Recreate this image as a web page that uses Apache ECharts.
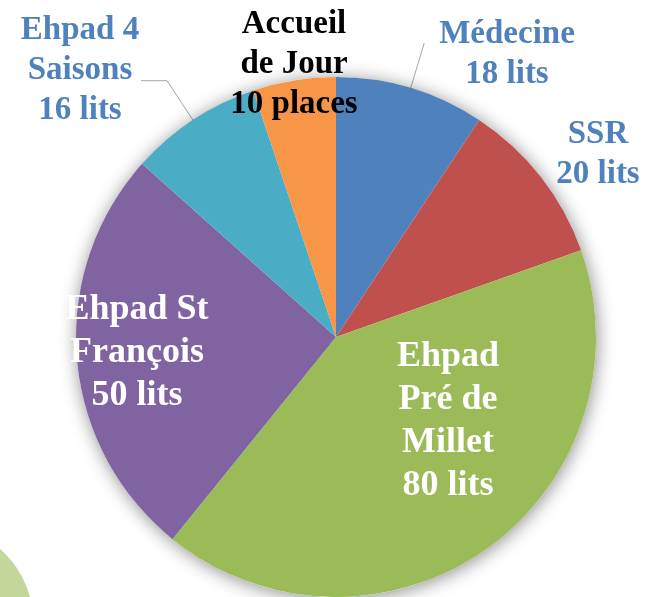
<!DOCTYPE html>
<html>
<head>
<meta charset="utf-8">
<script src="https://cdn.jsdelivr.net/npm/echarts@6/dist/echarts.min.js"></script>
<style>
  html, body { margin: 0; padding: 0; background: #fff; }
  #chart { width: 658px; height: 597px; }
</style>
</head>
<body>
<div id="chart"></div>
<script>
// capacité par structure, dans l'ordre horaire depuis midi
var names = ['Médecine', 'SSR', 'Ehpad\nPré de\nMillet', 'Ehpad St\nFrançois', 'Ehpad 4\nSaisons', 'Accueil\nde Jour'];
var values = [18, 20, 80, 50, 16, 10];
var units = ['lits', 'lits', 'lits', 'lits', 'lits', 'places'];

var colors = ['#4f81bd', '#c0504d', '#9bbb59', '#8064a2', '#4bacc6', '#f79646'];
var labelColors = ['#4f81bd', '#4f81bd', '#ffffff', '#ffffff', '#4f81bd', '#000000'];
var inside = [false, false, true, true, false, false];
var leader = [true, false, false, false, true, false];
var leaderLen2 = [0, 0, 0, 0, 26, 0];
// où poser chaque étiquette (centre du bloc de texte)
var labelPos = [[507, 54], [598, 154], [448, 421], [137, 353], [80, 70], [294, 64]];

var total = 0;
values.forEach(function (v) { total += v; });

var pieData = values.map(function (v, i) {
  return {
    name: names[i],
    value: v,
    itemStyle: { color: colors[i] },
    label: {
      color: labelColors[i],
      fontSize: inside[i] ? 36 : 33,
      lineHeight: inside[i] ? 43 : 40
    },
    labelLine: {
      show: leader[i],
      length: 47,
      length2: leaderLen2[i]
    }
  };
});

var chart = echarts.init(document.getElementById('chart'));
var option = {
  backgroundColor: '#ffffff',
  animation: false,
  graphic: [{
    type: 'circle',
    shape: { cx: -62, cy: 621, r: 95 },
    style: { fill: '#c4d79b' },
    z: -1
  }],
  series: [{
    // ombre portée sous le camembert
    type: 'pie',
    center: [336, 337],
    radius: 260,
    silent: true,
    label: { show: false },
    labelLine: { show: false },
    itemStyle: {
      color: '#ffffff',
      shadowBlur: 18,
      shadowColor: 'rgba(0,0,0,0.45)',
      shadowOffsetX: 1,
      shadowOffsetY: 2
    },
    data: [{ value: total }]
  }, {
    type: 'pie',
    center: [336, 337],
    radius: 260,
    startAngle: 90,
    clockwise: true,
    avoidLabelOverlap: false,
    label: {
      show: true,
      position: 'outside',
      fontFamily: 'Liberation Serif',
      fontWeight: 'bold',
      align: 'center',
      formatter: function (p) {
        return p.name + '\n' + p.value + ' ' + units[p.dataIndex];
      }
    },
    labelLine: {
      lineStyle: { color: '#a6a6a6', width: 1 }
    },
    labelLayout: function (params) {
      var pos = labelPos[params.dataIndex];
      var res = {
        x: pos[0],
        y: pos[1],
        align: 'center',
        verticalAlign: 'middle'
      };
      if (leader[params.dataIndex] && params.labelLinePoints) {
        res.labelLinePoints = params.labelLinePoints;
      }
      return res;
    },
    data: pieData
  }]
};
chart.setOption(option);
</script>
</body>
</html>
